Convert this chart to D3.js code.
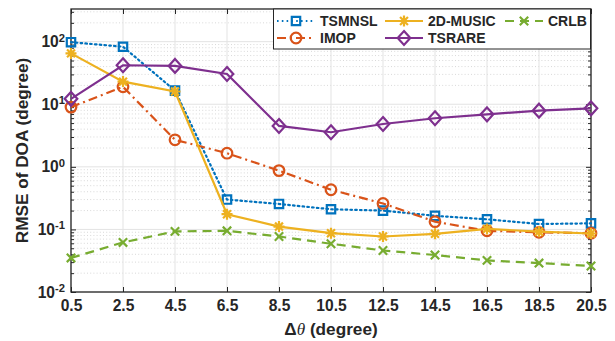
<!DOCTYPE html>
<html>
<head>
<meta charset="utf-8">
<script src="https://cdn.jsdelivr.net/npm/d3@7"></script>
<style>
  body { margin: 0; background: #fff; }
  text { font-family: "Liberation Sans", Arial, Helvetica, sans-serif; font-weight: bold; fill: #262626; }
</style>
</head>
<body>
<svg id="chart" width="615" height="341"></svg>
<script>
// Angular separation (degrees)
const deltaTheta = [0.5, 2.5, 4.5, 6.5, 8.5, 10.5, 12.5, 14.5, 16.5, 18.5, 20.5];

// RMSE of DOA estimates (degrees) for each method
const tsmnsl   = [98, 83, 16.5, 0.30, 0.255, 0.21, 0.20, 0.165, 0.145, 0.122, 0.125];
const imop     = [9.0, 19, 2.7, 1.65, 0.87, 0.43, 0.26, 0.133, 0.095, 0.09, 0.087];
const music2d  = [65, 23, 16, 0.175, 0.111, 0.087, 0.077, 0.085, 0.102, 0.092, 0.086];
const tsrare   = [12.2, 42, 41, 30.5, 4.5, 3.57, 4.84, 5.97, 6.9, 7.9, 8.6];
const crlb     = [0.035, 0.062, 0.093, 0.095, 0.077, 0.059, 0.046, 0.039, 0.032, 0.029, 0.026];

const seriesNames = ["TSMNSL", "IMOP", "2D-MUSIC", "TSRARE", "CRLB"];
const xTickLabels = ["0.5", "2.5", "4.5", "6.5", "8.5", "10.5", "12.5", "14.5", "16.5", "18.5", "20.5"];
const yTickValues = [1e-2, 1e-1, 1e0, 1e1, 1e2];

const W = 615, H = 341;
const margin = { left: 71, right: 24, top: 9, bottom: 49 };
const iw = W - margin.left - margin.right;
const ih = H - margin.top - margin.bottom;

const svg = d3.select("#chart");
const g = svg.append("g").attr("transform", `translate(${margin.left},${margin.top})`);

const x = d3.scaleLinear().domain([0.5, 20.5]).range([0, iw]);
const y = d3.scaleLog().domain([0.01, Math.pow(10, 2.522)]).range([ih, 0]);

// minor log ticks (2..9 of each decade)
const minorY = [];
for (let e = -2; e <= 2; e++) {
  for (let m = 2; m <= 9; m++) {
    const v = m * Math.pow(10, e);
    if (v < y.domain()[1]) minorY.push(v);
  }
}

// grid
const grid = g.append("g");
grid.selectAll(".gminor").data(minorY).join("line")
  .attr("x1", 0).attr("x2", iw)
  .attr("y1", d => y(d)).attr("y2", d => y(d))
  .attr("stroke", "#cfcfcf").attr("stroke-width", 0.8).attr("stroke-dasharray", "1,2.2");
grid.selectAll(".gmajy").data(yTickValues).join("line")
  .attr("x1", 0).attr("x2", iw)
  .attr("y1", d => y(d)).attr("y2", d => y(d))
  .attr("stroke", "#e3e3e3").attr("stroke-width", 1);
grid.selectAll(".gmajx").data(deltaTheta).join("line")
  .attr("x1", d => x(d)).attr("x2", d => x(d))
  .attr("y1", 0).attr("y2", ih)
  .attr("stroke", "#e3e3e3").attr("stroke-width", 1);

// axes
const axisColor = "#262626";
function styleAxis(sel) {
  sel.select(".domain").remove();
  sel.selectAll(".tick line").attr("stroke", axisColor).attr("stroke-width", 1);
}

const xAxis = g.append("g").attr("transform", `translate(0,${ih})`)
  .call(d3.axisBottom(x).tickValues(deltaTheta).tickSize(-5).tickPadding(8)
    .tickFormat((d, i) => xTickLabels[i]));
styleAxis(xAxis);
xAxis.selectAll("text").attr("font-size", "15.6px").attr("fill", axisColor);

g.append("g").call(d3.axisTop(x).tickValues(deltaTheta).tickSize(-5).tickFormat(""))
  .call(styleAxis);

const yAxis = g.append("g")
  .call(d3.axisLeft(y).tickValues(yTickValues).tickSize(-5).tickPadding(6).tickFormat(() => ""));
styleAxis(yAxis);
yAxis.selectAll(".tick text").each(function (d) {
  const t = d3.select(this).attr("font-size", "15.6px").attr("fill", axisColor);
  t.append("tspan").text("10");
  t.append("tspan").attr("dy", "-0.5em").attr("font-size", "0.72em").text(Math.round(Math.log10(d)));
});
g.append("g").call(d3.axisLeft(y).tickValues(minorY).tickSize(-3).tickFormat("")).call(styleAxis);
g.append("g").attr("transform", `translate(${iw},0)`)
  .call(d3.axisRight(y).tickValues(yTickValues).tickSize(-5).tickFormat("")).call(styleAxis);
g.append("g").attr("transform", `translate(${iw},0)`)
  .call(d3.axisRight(y).tickValues(minorY).tickSize(-3).tickFormat("")).call(styleAxis);

// plot box
g.append("rect").attr("x", 0).attr("y", 0).attr("width", iw).attr("height", ih)
  .attr("fill", "none").attr("stroke", axisColor).attr("stroke-width", 1.3);

// marker shapes
const markerPath = {
  square: s => `M${-s},${-s}H${s}V${s}H${-s}Z`,
  circle: s => `M${s},0A${s},${s} 0 1,1 ${-s},0A${s},${s} 0 1,1 ${s},0Z`,
  diamond: s => `M0,${-s * 1.1}L${s},0L0,${s * 1.1}L${-s},0Z`,
  asterisk: s => `M${-s},0H${s}M0,${-s}V${s}M${-s * 0.72},${-s * 0.72}L${s * 0.72},${s * 0.72}M${-s * 0.72},${s * 0.72}L${s * 0.72},${-s * 0.72}`,
  cross: s => `M${-s},${-s}L${s},${s}M${-s},${s}L${s},${-s}`
};

const series = [
  { name: seriesNames[0], values: tsmnsl,  color: "#0072BD", dash: "1.6,3.2", marker: "square",   size: 4.2 },
  { name: seriesNames[1], values: imop,    color: "#D95319", dash: "9,4,2,4", marker: "circle",   size: 5.3 },
  { name: seriesNames[2], values: music2d, color: "#EDB120", dash: null,      marker: "asterisk", size: 5.5 },
  { name: seriesNames[3], values: tsrare,  color: "#7E2F8E", dash: null,      marker: "diamond",  size: 6.3 },
  { name: seriesNames[4], values: crlb,    color: "#77AC30", dash: "9,6",     marker: "cross",    size: 4.2 }
];

const line = d3.line().x(d => x(d[0])).y(d => y(d[1]));

series.forEach(s => {
  const pts = deltaTheta.map((t, i) => [t, s.values[i]]);
  const sg = g.append("g");
  sg.append("path").datum(pts).attr("d", line)
    .attr("fill", "none").attr("stroke", s.color).attr("stroke-width", 2.2)
    .attr("stroke-dasharray", s.dash).attr("stroke-linecap", s.dash && s.marker === "square" ? "round" : "butt");
  sg.selectAll("path.mk").data(pts).join("path").attr("class", "mk")
    .attr("transform", d => `translate(${x(d[0])},${y(d[1])})`)
    .attr("d", markerPath[s.marker](s.size))
    .attr("fill", "none").attr("stroke", s.color).attr("stroke-width", 2.2);
});

// legend
const legend = svg.append("g");
legend.append("rect").attr("x", 273.5).attr("y", 9).attr("width", 317).attr("height", 40)
  .attr("fill", "#fff").attr("stroke", axisColor).attr("stroke-width", 1);
const legendPos = [
  { x: 277, y: 21 }, { x: 277, y: 38 },
  { x: 385, y: 21 }, { x: 385, y: 38 },
  { x: 505, y: 21 }
];
series.forEach((s, i) => {
  const p = legendPos[i];
  const lg = legend.append("g").attr("transform", `translate(${p.x},${p.y})`);
  lg.append("line").attr("x1", 0).attr("x2", 38).attr("y1", 0).attr("y2", 0)
    .attr("stroke", s.color).attr("stroke-width", 2.2).attr("stroke-dasharray", s.dash);
  lg.append("path").attr("transform", "translate(19,0)").attr("d", markerPath[s.marker](s.size))
    .attr("fill", "none").attr("stroke", s.color).attr("stroke-width", 2.2);
  lg.append("text").attr("x", 43).attr("dy", "0.36em").attr("font-size", "14px").text(s.name);
});

// axis titles
svg.append("text")
  .attr("transform", `translate(27.5,${margin.top + ih / 2}) rotate(-90)`)
  .attr("text-anchor", "middle").attr("font-size", "17.2px")
  .text("RMSE of DOA (degree)");

const xt = svg.append("text")
  .attr("x", margin.left + iw / 2).attr("y", 335)
  .attr("text-anchor", "middle").attr("font-size", "17.2px");
xt.append("tspan").text("Δ");
xt.append("tspan").attr("font-style", "italic").attr("font-family", "'Liberation Serif', 'Times New Roman', serif").attr("font-weight", "normal").text("θ");
xt.append("tspan").text(" (degree)");
</script>
</body>
</html>
